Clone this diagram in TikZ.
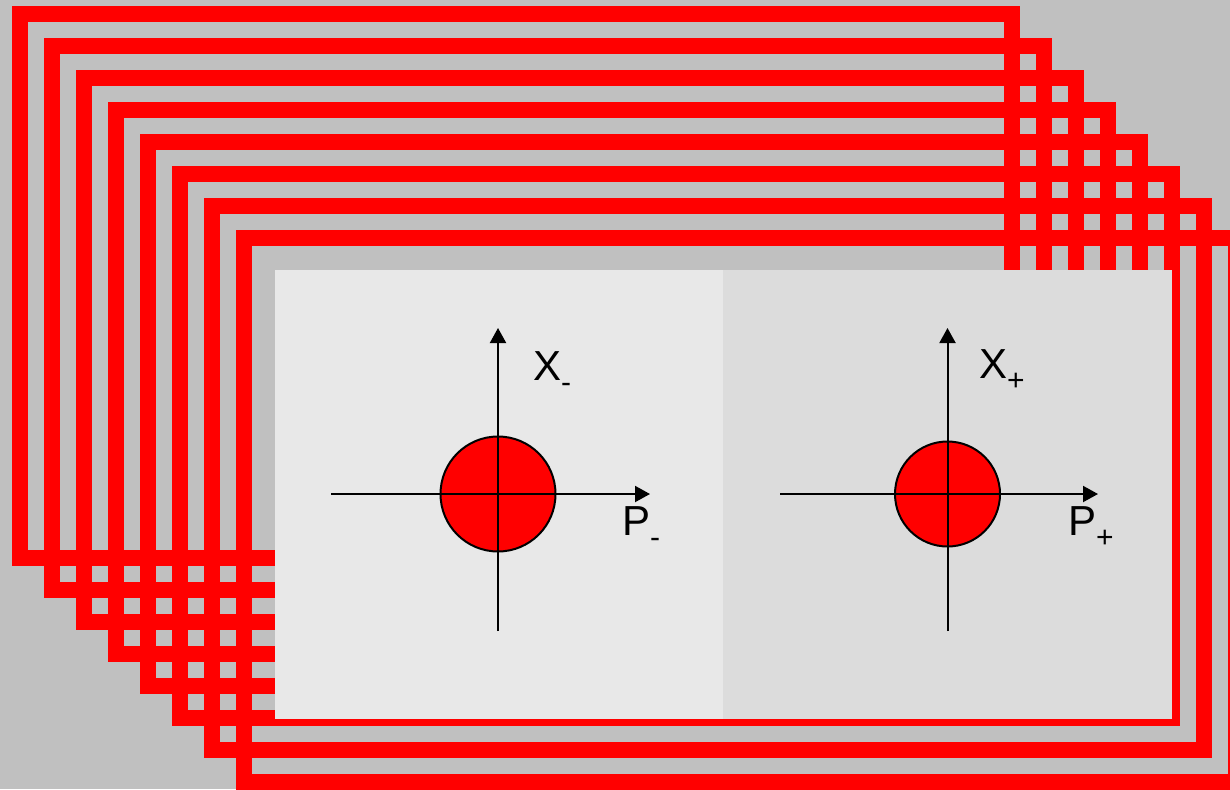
\documentclass[tikz,border=0pt]{standalone}
\usepackage{fontspec}
\setmainfont{Liberation Sans}
\usepackage{tikz}
\usetikzlibrary{arrows.meta}
\definecolor{framered}{RGB}{255, 0, 0}
\definecolor{backdrop}{RGB}{192, 192, 192}
\definecolor{paneleft}{RGB}{232, 232, 232}
\definecolor{panelright}{RGB}{220, 220, 220}
\newcommand{\lowidx}[1]{\raisebox{-12pt}{\fontsize{30}{30}\selectfont #1}}

\begin{document}
\begin{tikzpicture}[x=1pt,y=-1pt,
  frame/.style={draw=framered,line width=16pt},
  axis/.style={black,line width=2pt,-{Triangle[length=15pt,width=16pt]}},
  disc/.style={fill=framered,draw=black,line width=2pt},
  lbl/.style={anchor=base west,inner sep=0pt,font=\fontsize{42}{50}\selectfont}]
\useasboundingbox (0,0) rectangle (1230,789);
\fill[backdrop] (0,0) rectangle (1230,789);
\foreach \i in {0,...,7}
  \draw[frame] ({19.7+32*\i},{14+32*\i}) rectangle ({1012+32*\i},{558+32*\i});
\fill[paneleft] (275,270) rectangle (723,719);
\fill[panelright] (723,270) rectangle (1172,719);
% left phase space
\coordinate (OL) at (498,494);
\coordinate (XLb) at (498,631);
\coordinate (XLt) at (498,328);
\coordinate (PLa) at (331,494);
\coordinate (PLb) at (650,494);
\filldraw[disc] (OL) circle (57.5);
\draw[axis] (XLb) -- (XLt);
\draw[axis] (PLa) -- (PLb);
\node[lbl] (xminus) at (533,380) {X\lowidx{-}};
\node[lbl] (pminus) at (622,535) {P\lowidx{-}};
% right phase space
\coordinate (OR) at (947.5,494);
\coordinate (XRb) at (947.5,631);
\coordinate (XRt) at (947.5,328);
\coordinate (PRa) at (780,494);
\coordinate (PRb) at (1098,494);
\filldraw[disc] (OR) circle (52.5);
\draw[axis] (XRb) -- (XRt);
\draw[axis] (PRa) -- (PRb);
\node[lbl] (xplus) at (979,378) {X\lowidx{+}};
\node[lbl] (pplus) at (1068,535) {P\lowidx{+}};
\end{tikzpicture}
\end{document}
